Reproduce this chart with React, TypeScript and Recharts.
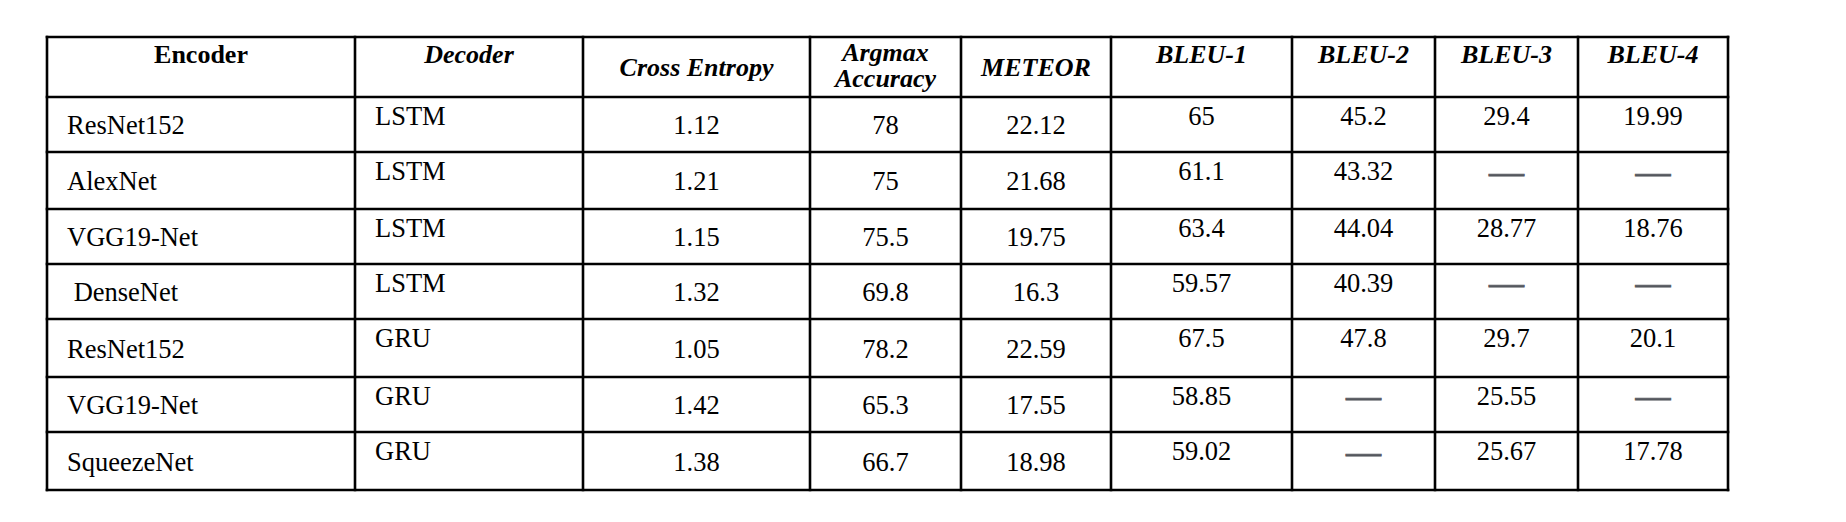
import React from "react";
import { ScatterChart, Scatter, XAxis, YAxis, ReferenceLine } from "recharts";

// table content
const HEADERS = ["Encoder", "Decoder", "Cross Entropy", "Argmax\nAccuracy", "METEOR", "BLEU-1", "BLEU-2", "BLEU-3", "BLEU-4"];
const ENCODERS = ["ResNet152", "AlexNet", "VGG19-Net", " DenseNet", "ResNet152", "VGG19-Net", "SqueezeNet"];
const DECODERS = ["LSTM", "LSTM", "LSTM", "LSTM", "GRU", "GRU", "GRU"];
const CROSS_ENTROPY = [1.12, 1.21, 1.15, 1.32, 1.05, 1.42, 1.38];
const ARGMAX_ACC = [78, 75, 75.5, 69.8, 78.2, 65.3, 66.7];
const METEOR = [22.12, 21.68, 19.75, 16.3, 22.59, 17.55, 18.98];
const BLEU1 = [65, 61.1, 63.4, 59.57, 67.5, 58.85, 59.02];
const BLEU2: (number | null)[] = [45.2, 43.32, 44.04, 40.39, 47.8, null, null];
const BLEU3: (number | null)[] = [29.4, null, 28.77, null, 29.7, 25.55, 25.67];
const BLEU4: (number | null)[] = [19.99, null, 18.76, null, 20.1, null, 17.78];

// layout (table units, px)
const COL_EDGES = [0, 308, 536, 763, 914, 1064, 1245, 1388, 1531, 1681];
const ROW_EDGES = [0, 60, 115, 172, 227, 282, 340, 395, 453];
const TABLE_W = COL_EDGES[COL_EDGES.length - 1];
const TABLE_H = ROW_EDGES[ROW_EDGES.length - 1];
const FONT = '"Liberation Serif", "Times New Roman", serif';

type CellPoint = {
  x: number;
  y: number;
  text: string;
  anchor: "start" | "middle";
  bold?: boolean;
  italic?: boolean;
  dash?: boolean;
};

const COLUMNS: (string | number | null)[][] = [
  ENCODERS, DECODERS, CROSS_ENTROPY, ARGMAX_ACC, METEOR, BLEU1, BLEU2, BLEU3, BLEU4,
];

function buildCells(): CellPoint[] {
  const cells: CellPoint[] = [];
  const mid = (c: number) => (COL_EDGES[c] + COL_EDGES[c + 1]) / 2;
  const hTop = ROW_EDGES[0];
  const hMid = (ROW_EDGES[0] + ROW_EDGES[1]) / 2;

  HEADERS.forEach((h, c) => {
    const italic = c > 0;
    if (c === 3) {
      const [a, b] = h.split("\n");
      cells.push({ x: mid(c), y: hMid - 6, text: a, anchor: "middle", bold: true, italic });
      cells.push({ x: mid(c), y: hMid + 20, text: b, anchor: "middle", bold: true, italic });
    } else if (c === 2 || c === 4) {
      cells.push({ x: mid(c), y: hMid + 9, text: h, anchor: "middle", bold: true, italic });
    } else {
      cells.push({ x: mid(c), y: hTop + 26, text: h, anchor: "middle", bold: true, italic });
    }
  });

  COLUMNS.forEach((col, c) => {
    col.forEach((v, r) => {
      const top = ROW_EDGES[r + 1];
      const bottom = ROW_EDGES[r + 2];
      const center = (top + bottom) / 2;
      if (v == null) {
        cells.push({ x: mid(c), y: center + 3, text: "\u2014", anchor: "middle", dash: true });
        return;
      }
      const text = String(v);
      if (c === 0) cells.push({ x: COL_EDGES[c] + 20, y: center + 9.5, text, anchor: "start" });
      else if (c === 1) cells.push({ x: COL_EDGES[c] + 20, y: top + 28, text, anchor: "start" });
      else if (c <= 4) cells.push({ x: mid(c), y: center + 9.5, text, anchor: "middle" });
      else cells.push({ x: mid(c), y: top + 28, text, anchor: "middle" });
    });
  });
  return cells;
}

const CELLS = buildCells();

const CellText = (props: any) => {
  const { cx, cy, payload } = props;
  const p = payload as CellPoint;
  return (
    <text
      x={cx}
      y={cy}
      textAnchor={p.anchor}
      fontFamily={FONT}
      fontSize={p.dash ? 35 : p.bold ? 26 : 26.5}
      fontWeight={p.bold ? 700 : 400}
      fontStyle={p.italic ? "italic" : "normal"}
      fill={p.dash ? "#54575d" : "#000"}
      stroke={p.dash ? "#54575d" : "none"}
      strokeWidth={p.dash ? 0.8 : 0}
      style={{ whiteSpace: "pre" }}
    >
      {p.text}
    </text>
  );
};

export default function App() {
  return (
    <div style={{ width: 1830, height: 506, background: "#fff" }}>
      <ScatterChart
        width={1830}
        height={506}
        margin={{ top: 29, left: 39, right: 1830 - 39 - TABLE_W, bottom: 506 - 29 - TABLE_H }}
      >
        <XAxis type="number" dataKey="x" domain={[0, TABLE_W]} allowDataOverflow hide />
        <YAxis type="number" dataKey="y" domain={[0, TABLE_H]} reversed allowDataOverflow hide />
        {COL_EDGES.map((x) => (
          <ReferenceLine key={`c${x}`} x={x} stroke="#000" strokeWidth={2.6} strokeLinecap="square" />
        ))}
        {ROW_EDGES.map((y) => (
          <ReferenceLine key={`r${y}`} y={y} stroke="#000" strokeWidth={2.6} strokeLinecap="square" />
        ))}
        <Scatter data={CELLS} shape={CellText} isAnimationActive={false} />
      </ScatterChart>
    </div>
  );
}
